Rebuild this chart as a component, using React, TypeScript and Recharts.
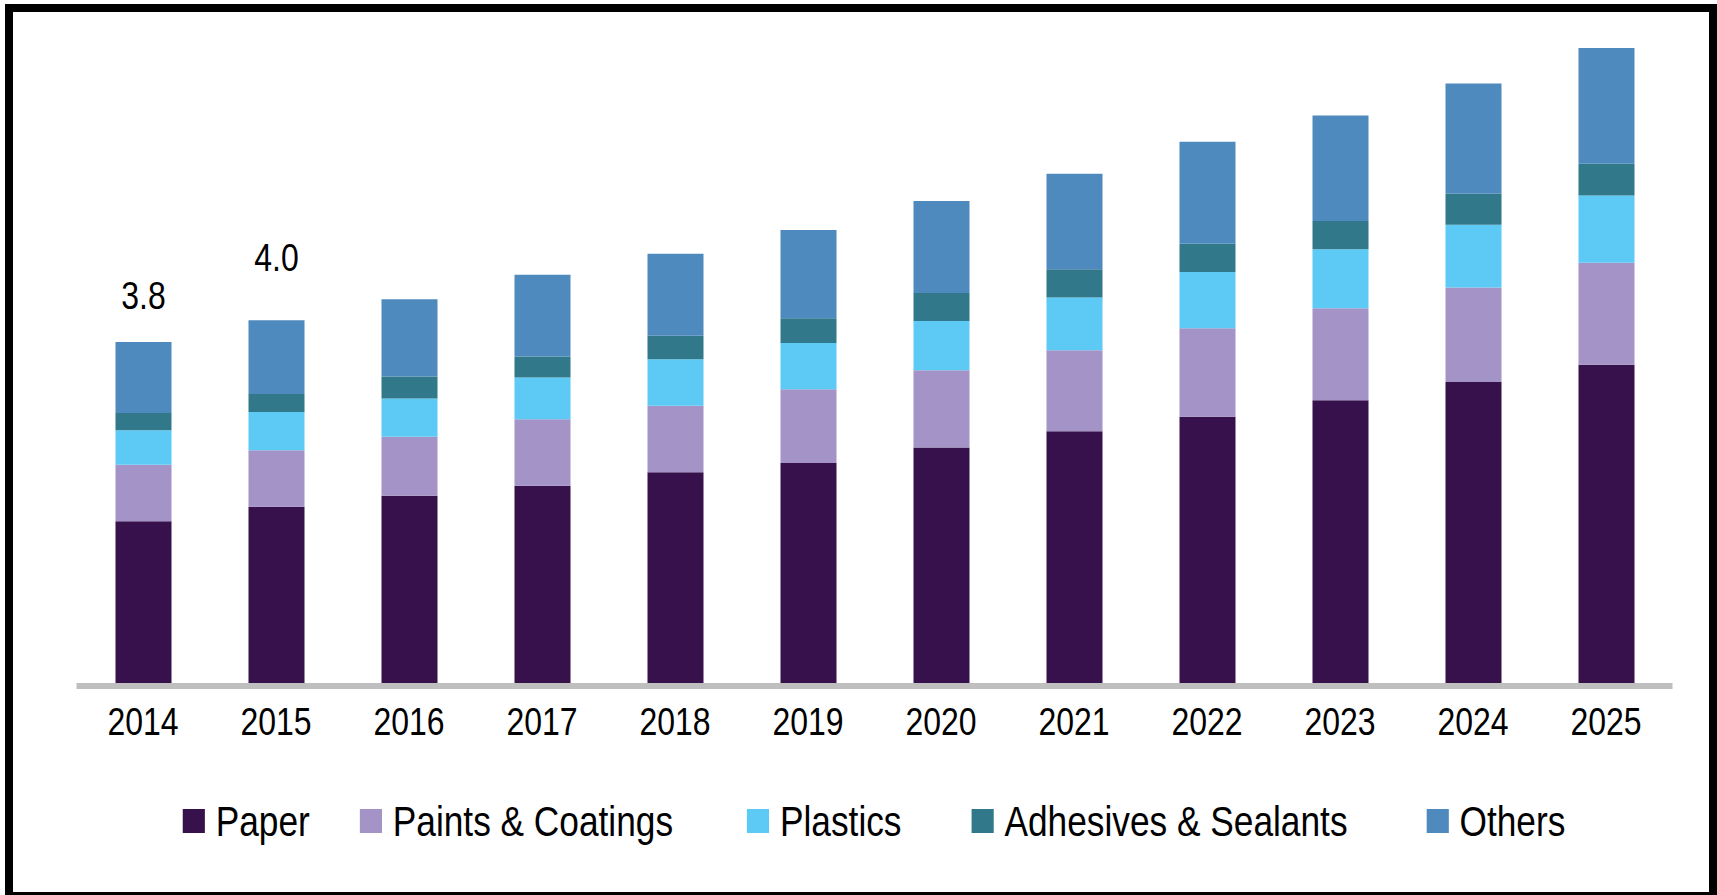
import React from 'react';
import { BarChart, Bar, XAxis, YAxis, LabelList } from 'recharts';

const years = ['2014', '2015', '2016', '2017', '2018', '2019', '2020', '2021', '2022', '2023', '2024', '2025'];
const paper = [1.81, 1.97, 2.09, 2.2, 2.35, 2.45, 2.62, 2.8, 2.96, 3.14, 3.34, 3.53];
const paints = [0.62, 0.62, 0.65, 0.73, 0.73, 0.81, 0.85, 0.89, 0.97, 1.01, 1.04, 1.12];
const plastics = [0.38, 0.42, 0.42, 0.46, 0.51, 0.51, 0.54, 0.58, 0.62, 0.65, 0.69, 0.74];
const adhesives = [0.19, 0.2, 0.24, 0.23, 0.26, 0.27, 0.31, 0.31, 0.31, 0.31, 0.34, 0.35];
const others = [0.78, 0.81, 0.85, 0.9, 0.9, 0.97, 1.01, 1.05, 1.12, 1.16, 1.21, 1.27];
const totalLabels = ['3.8', '4.0', '', '', '', '', '', '', '', '', '', ''];

const seriesNames = ['Paper', 'Paints & Coatings', 'Plastics', 'Adhesives & Sealants', 'Others'];
const seriesKeys = ['paper', 'paints', 'plastics', 'adhesives', 'others'];
const seriesColors = ['#37114b', '#a393c6', '#5dcaf6', '#30788a', '#4f8abe'];

const data = years.map((year, i) => ({
  year,
  paper: paper[i],
  paints: paints[i],
  plastics: plastics[i],
  adhesives: adhesives[i],
  others: others[i],
  label: totalLabels[i],
}));

const FONT = "'Liberation Sans', Arial, sans-serif";
const SX = 0.82;
const labelOffsets = [33, 49];
const legendGaps = [50, 74, 70, 79, 0];

const renderLabel = (props: any) => {
  const { x, y, width, value, index } = props;
  if (!value) return null;
  const off = labelOffsets[index] ?? 40;
  return (
    <g transform={`translate(${Number(x) + Number(width) / 2},${Number(y) - off})`}>
      <text transform={`scale(${SX},1)`} textAnchor="middle" fontSize={39} fontFamily={FONT} fill="#000">
        {value}
      </text>
    </g>
  );
};

const renderTick = (props: any) => {
  const { x, y, payload } = props;
  return (
    <g transform={`translate(${x},${y})`}>
      <text
        transform={`scale(${SX},1)`}
        textAnchor="middle"
        dy="0.71em"
        fontSize={39}
        fontFamily={FONT}
        fill="#000"
      >
        {payload.value}
      </text>
    </g>
  );
};

export default function App() {
  return (
    <div style={{ position: 'relative', width: 1717, height: 895, background: '#fff', overflow: 'hidden' }}>
      <style>{`html,body{margin:0;padding:0;overflow:hidden;background:#fff;}`}</style>
      <div
        style={{
          position: 'absolute',
          left: 5,
          top: 4,
          width: 1712,
          height: 896,
          border: '8px solid #000',
          boxSizing: 'border-box',
        }}
      />
      <div style={{ position: 'absolute', left: 0, top: 0 }}>
        <BarChart
          width={1717}
          height={895}
          data={data}
          margin={{ top: 30.8, right: 44.5, left: 76.5, bottom: 179 }}
          barCategoryGap={0}
        >
          <YAxis hide domain={[0, 7.2]} />
          <XAxis
            dataKey="year"
            height={30}
            interval={0}
            tickLine={false}
            tickMargin={15}
            axisLine={{ stroke: '#bfbfbf', strokeWidth: 6 }}
            tick={renderTick}
          />
          {seriesKeys.map((k, i) => (
            <Bar
              key={k}
              dataKey={k}
              name={seriesNames[i]}
              stackId="a"
              fill={seriesColors[i]}
              barSize={56}
              isAnimationActive={false}
            >
              {k === 'others' ? <LabelList dataKey="label" content={renderLabel} /> : null}
            </Bar>
          ))}
        </BarChart>
      </div>
      <div
        style={{
          position: 'absolute',
          left: 76,
          top: 796,
          width: 1596,
          height: 50,
          display: 'flex',
          justifyContent: 'center',
          alignItems: 'center',
          fontFamily: FONT,
          fontSize: 43,
          color: '#000',
          transform: `scaleX(${SX})`,
          transformOrigin: '50% 50%',
        }}
      >
        {seriesNames.map((n, i) => (
          <div
            key={n}
            style={{
              display: 'flex',
              alignItems: 'center',
              marginRight: legendGaps[i] / SX,
            }}
          >
            <div style={{ width: 22 / SX, height: 24, background: seriesColors[i], marginRight: 11 / SX }} />
            <span style={{ lineHeight: 1, whiteSpace: 'nowrap' }}>{n}</span>
          </div>
        ))}
      </div>
    </div>
  );
}
